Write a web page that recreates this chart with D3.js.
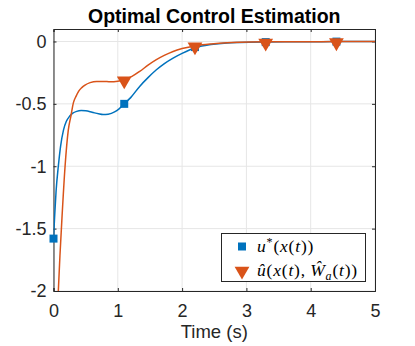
<!DOCTYPE html>
<html>
<head>
<meta charset="utf-8">
<script src="https://cdn.jsdelivr.net/npm/d3@7"></script>
<style>
  body { margin: 0; background: #fff; }
  svg { display: block; }
</style>
</head>
<body>
<div id="chart"></div>
<script>
// Data
const timeOpt = [0, 0.015, 0.04, 0.075, 0.11, 0.155, 0.2, 0.25, 0.3, 0.36, 0.43, 0.5, 0.6, 0.7, 0.77, 0.85, 0.95, 1.02, 1.1, 1.2, 1.34, 1.47, 1.6, 1.73, 1.86, 2.0, 2.22, 2.45, 2.7, 2.9, 3.3, 3.8, 4.4, 5];
const uOpt = [-1.58, -1.43, -1.2, -1.0, -0.84, -0.71, -0.64, -0.6, -0.575, -0.56, -0.553, -0.555, -0.567, -0.58, -0.586, -0.583, -0.565, -0.54, -0.5, -0.45, -0.36, -0.29, -0.227, -0.175, -0.133, -0.095, -0.048, -0.025, -0.012, -0.008, -0.004, -0.002, -0.001, 0];
const timeEst = [0, 0.04, 0.075, 0.1, 0.13, 0.18, 0.23, 0.27, 0.31, 0.35, 0.39, 0.44, 0.49, 0.57, 0.67, 0.78, 0.88, 1.0, 1.1, 1.22, 1.34, 1.47, 1.6, 1.73, 1.86, 2.0, 2.22, 2.45, 2.7, 2.9, 3.3, 3.8, 4.4, 5];
const uEst = [-3.2, -2.45, -2.0, -1.72, -1.43, -1.0, -0.71, -0.6, -0.49, -0.44, -0.4, -0.37, -0.35, -0.33, -0.32, -0.32, -0.323, -0.318, -0.307, -0.28, -0.24, -0.19, -0.146, -0.11, -0.08, -0.057, -0.034, -0.02, -0.01, -0.006, -0.003, -0.002, -0.001, 0];
const markTime = [0, 1.1, 2.2, 3.3, 4.4];
const markOpt = [-1.58, -0.5, -0.045, -0.005, -0.001];
const markEst = [-3.2, -0.307, -0.034, -0.004, -0.001];
const xTicks = [0, 1, 2, 3, 4, 5];
const yTicks = [0, -0.5, -1, -1.5, -2];

const width = 415, height = 346;
const margin = { left: 53.5, right: 40, top: 29, bottom: 55 };
const blue = "#0072BD", orange = "#D95319", axisColor = "#262626";

const svg = d3.select("#chart").append("svg")
  .attr("width", width).attr("height", height)
  .style("font-family", "'Liberation Sans', Arial, sans-serif");

const x = d3.scaleLinear().domain([0, 5]).range([margin.left, width - margin.right]);
const y = d3.scaleLinear().domain([-2, 0.1]).range([height - margin.bottom, margin.top]);

// clip
svg.append("clipPath").attr("id", "clip").append("rect")
  .attr("x", x(0)).attr("y", y(0.1))
  .attr("width", x(5) - x(0)).attr("height", y(-2) - y(0.1));

// grid
svg.append("g").selectAll("line").data(xTicks).join("line")
  .attr("x1", d => x(d)).attr("x2", d => x(d))
  .attr("y1", y(-2)).attr("y2", y(0.1))
  .attr("stroke", "#e6e6e6").attr("stroke-width", 1);
svg.append("g").selectAll("line").data(yTicks).join("line")
  .attr("x1", x(0)).attr("x2", x(5))
  .attr("y1", d => y(d)).attr("y2", d => y(d))
  .attr("stroke", "#e6e6e6").attr("stroke-width", 1);

// axes with inward ticks
const xAxis = svg.append("g").attr("transform", `translate(0,${y(-2)})`)
  .call(d3.axisBottom(x).tickValues(xTicks).tickSize(-3).tickPadding(13).tickFormat(d3.format("d")));
const xTop = svg.append("g").attr("transform", `translate(0,${y(0.1)})`)
  .call(d3.axisTop(x).tickValues(xTicks).tickSize(-3).tickFormat(""));
const yAxis = svg.append("g").attr("transform", `translate(${x(0)},0)`)
  .call(d3.axisLeft(y).tickValues(yTicks).tickSize(-3).tickPadding(7).tickFormat(d => d === 0 ? "0" : String(d)));
const yRight = svg.append("g").attr("transform", `translate(${x(5)},0)`)
  .call(d3.axisRight(y).tickValues(yTicks).tickSize(-3).tickFormat(""));

[xAxis, xTop, yAxis, yRight].forEach(g => {
  g.select(".domain").attr("stroke", axisColor).attr("stroke-width", 1);
  g.selectAll(".tick line").attr("stroke", axisColor);
  g.selectAll("text").attr("fill", axisColor).style("font-size", "18px")
    .style("font-family", "'Liberation Sans', Arial, sans-serif");
});

// lines
const line = d3.line().curve(d3.curveMonotoneX);
const plot = svg.append("g").attr("clip-path", "url(#clip)");
plot.append("path")
  .attr("d", line(timeOpt.map((t, i) => [x(t), y(uOpt[i])])))
  .attr("fill", "none").attr("stroke", blue).attr("stroke-width", 1.5);
plot.append("path")
  .attr("d", line(timeEst.map((t, i) => [x(t), y(uEst[i])])))
  .attr("fill", "none").attr("stroke", orange).attr("stroke-width", 1.5);

// markers
const sq = 8;
svg.append("g").selectAll("rect").data(markTime).join("rect")
  .attr("x", d => x(d) - sq / 2).attr("y", (d, i) => y(markOpt[i]) - sq / 2)
  .attr("width", sq).attr("height", sq).attr("fill", blue);
const tri = d3.symbol().type(d3.symbolTriangle).size(95);
svg.append("g").attr("clip-path", "url(#clip)").selectAll("path").data(markTime).join("path")
  .attr("d", tri)
  .attr("transform", (d, i) => `translate(${x(d)},${y(markEst[i]) + 1}) rotate(180)`)
  .attr("fill", orange);

// title
svg.append("text").attr("x", (x(0) + x(5)) / 2).attr("y", 22.5)
  .attr("text-anchor", "middle").attr("fill", "#000")
  .style("font-size", "19.5px").style("font-weight", "bold")
  .text("Optimal Control Estimation");

// x label
svg.append("text").attr("x", (x(0) + x(5)) / 2).attr("y", 338)
  .attr("text-anchor", "middle").attr("fill", axisColor)
  .style("font-size", "18.5px").text("Time (s)");

// legend
const lg = svg.append("g");
lg.append("rect").attr("x", 221.5).attr("y", 233.5).attr("width", 144).attr("height", 48)
  .attr("fill", "#fff").attr("stroke", axisColor).attr("stroke-width", 1);
lg.append("rect").attr("x", 242 - sq / 2).attr("y", 246.5 - sq / 2).attr("width", sq).attr("height", sq).attr("fill", blue);
lg.append("path").attr("d", tri).attr("transform", "translate(242,271) rotate(180)").attr("fill", orange);

const legFont = "'Liberation Serif', serif";
const t1 = lg.append("text").attr("x", 257).attr("y", 252).attr("fill", "#000")
  .style("font-family", legFont).style("font-size", "17.5px").style("letter-spacing", "0.8px");
t1.append("tspan").style("font-style", "italic").text("u");
t1.append("tspan").attr("dy", -6).style("font-size", "12px").text("*");
t1.append("tspan").attr("dy", 6).text("(");
t1.append("tspan").style("font-style", "italic").text("x");
t1.append("tspan").text("(");
t1.append("tspan").style("font-style", "italic").text("t");
t1.append("tspan").text("))");

const t2 = lg.append("text").attr("x", 257).attr("y", 276).attr("fill", "#000")
  .style("font-family", legFont).style("font-size", "17.5px").style("letter-spacing", "0.8px");
t2.append("tspan").style("font-style", "italic").text("û");
t2.append("tspan").text("(");
t2.append("tspan").style("font-style", "italic").text("x");
t2.append("tspan").text("(");
t2.append("tspan").style("font-style", "italic").text("t");
t2.append("tspan").text("),\u2009");
t2.append("tspan").style("font-style", "italic").text("Ŵ");
t2.append("tspan").attr("dy", 4).style("font-size", "12px").style("font-style", "italic").text("a");
t2.append("tspan").attr("dy", -4).text("(");
t2.append("tspan").style("font-style", "italic").text("t");
t2.append("tspan").text("))");
</script>
</body>
</html>
